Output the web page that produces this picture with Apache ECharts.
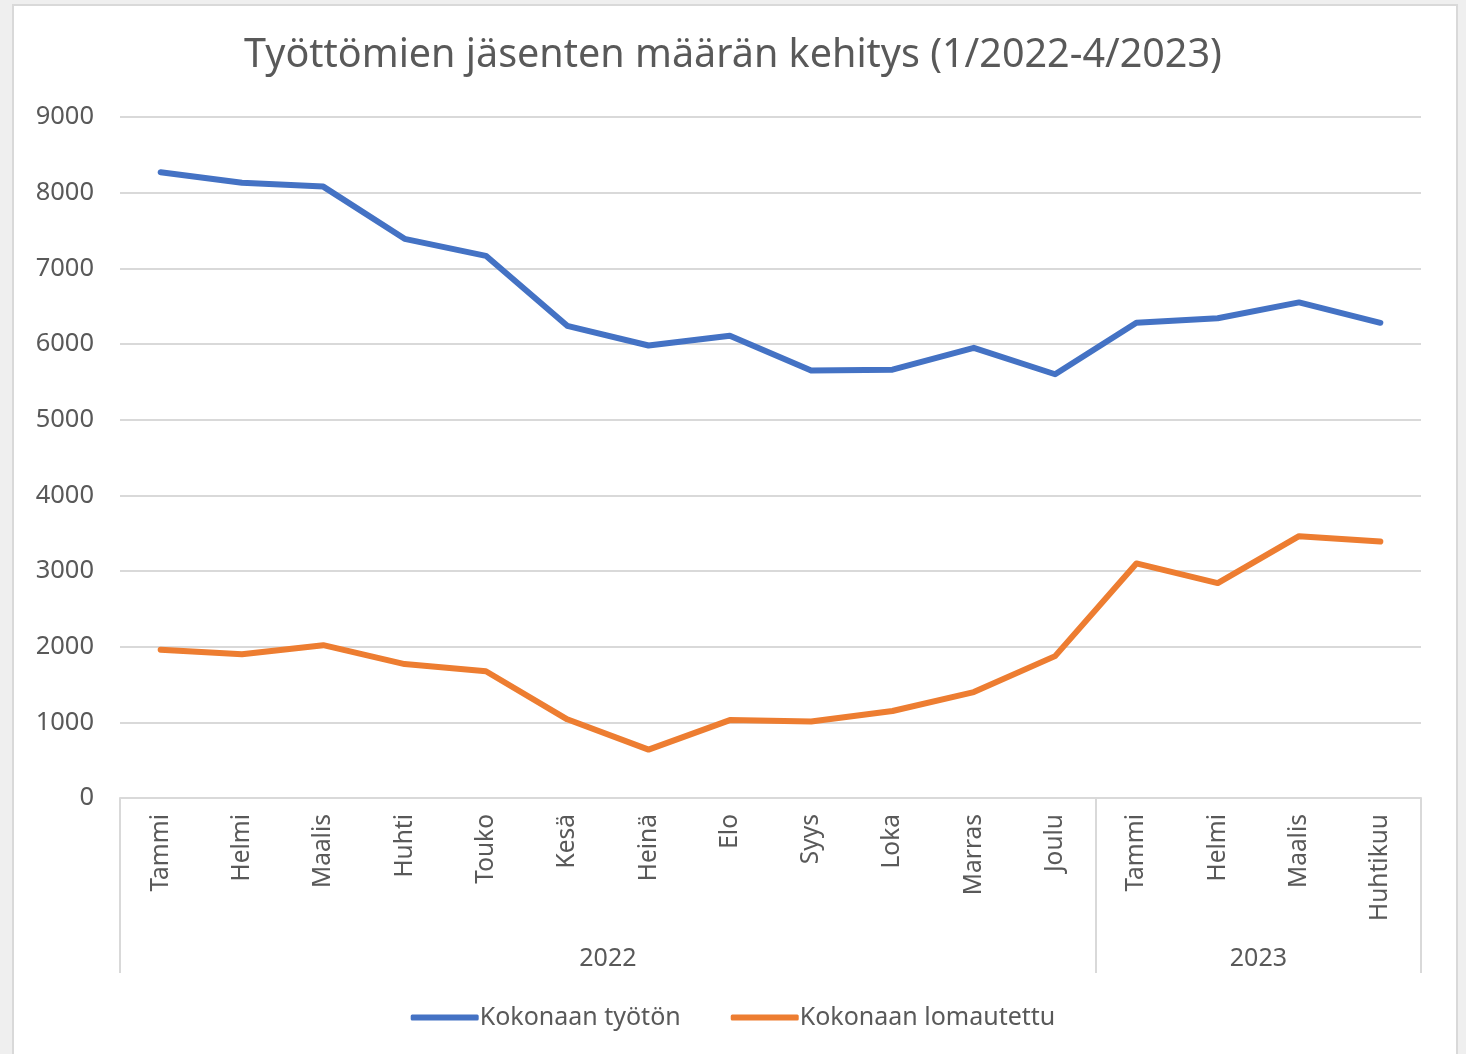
<!DOCTYPE html>
<html>
<head>
<meta charset="utf-8">
<script src="https://cdn.jsdelivr.net/npm/echarts@6/dist/echarts.min.js"></script>
<style>
  html, body { margin: 0; padding: 0; background: #efefef; width: 1466px; height: 1054px; overflow: hidden; }
  #frame { position: absolute; left: 12px; top: 4px; width: 1442px; height: 1060px; background: #fff; border: 2px solid #d9d9d9; }
  #chart { position: absolute; left: 0; top: 0; width: 1466px; height: 1054px; }
</style>
</head>
<body>
<div id="frame"></div>
<div id="chart"></div>
<script>
const title = 'Työttömien jäsenten määrän kehitys (1/2022-4/2023)';
const months = ['Tammi','Helmi','Maalis','Huhti','Touko','Kesä','Heinä','Elo','Syys','Loka','Marras','Joulu','Tammi','Helmi','Maalis','Huhtikuu'];
const years = ['2022', '2023'];
const yearBounds = [0, 12, 16];
const yearCenters = [6, 14];
const seriesNames = ['Kokonaan työtön', 'Kokonaan lomautettu'];
const tyoton = [8270, 8130, 8080, 7390, 7165, 6240, 5980, 6110, 5650, 5660, 5950, 5600, 6280, 6340, 6550, 6280];
const lomautettu = [1960, 1900, 2020, 1770, 1675, 1040, 640, 1030, 1010, 1150, 1400, 1875, 3100, 2840, 3460, 3390];

const FONT = 'Noto Sans';
const TXT = '#595959';
const GRID = '#d9d9d9';

const chart = echarts.init(document.getElementById('chart'), null, { renderer: 'canvas' });
chart.setOption({
  backgroundColor: 'transparent',
  animation: false,
  title: {
    text: title,
    left: 'center',
    top: 31,
    textStyle: { fontFamily: FONT, fontSize: 39.5, fontWeight: 'normal', color: TXT }
  },
  legend: {
    bottom: 19,
    left: 'center',
    itemWidth: 68,
    itemHeight: 6,
    itemGap: 50,
    icon: 'roundRect',
    textStyle: { fontFamily: FONT, fontSize: 25, color: TXT, padding: [0, 0, 0, -4] },
    data: seriesNames
  },
  grid: { left: 120, right: 45, top: 117, bottom: 256, containLabel: false },
  xAxis: [
    {
      type: 'category',
      data: months,
      position: 'bottom',
      boundaryGap: true,
      axisLine: { show: true, lineStyle: { color: GRID, width: 2 } },
      axisTick: { show: false },
      axisLabel: { rotate: 90, interval: 0, margin: 16, fontFamily: FONT, fontSize: 24.5, color: TXT }
    },
    {
      type: 'value',
      min: yearBounds[0],
      max: yearBounds[yearBounds.length - 1],
      position: 'bottom',
      splitLine: { show: false },
      axisLine: { show: false },
      axisTick: { show: true, customValues: yearBounds, length: 175, lineStyle: { color: GRID, width: 2 } },
      axisLabel: {
        show: true,
        customValues: yearCenters,
        margin: 148,
        fontFamily: FONT, fontSize: 25, color: TXT,
        formatter: v => years[yearCenters.indexOf(v)]
      }
    }
  ],
  yAxis: {
    type: 'value',
    min: 0, max: 9000, interval: 1000,
    axisLine: { show: false },
    axisTick: { show: false },
    splitLine: { lineStyle: { color: GRID, width: 2 } },
    axisLabel: { margin: 26, fontFamily: FONT, fontSize: 25.5, color: TXT, formatter: v => String(v) }
  },
  series: [
    {
      name: seriesNames[0], type: 'line', data: tyoton, xAxisIndex: 0,
      showSymbol: false, symbol: 'none',
      lineStyle: { color: '#4472C4', width: 6, cap: 'round', join: 'round' },
      itemStyle: { color: '#4472C4' }
    },
    {
      name: seriesNames[1], type: 'line', data: lomautettu, xAxisIndex: 0,
      showSymbol: false, symbol: 'none',
      lineStyle: { color: '#ED7D31', width: 6, cap: 'round', join: 'round' },
      itemStyle: { color: '#ED7D31' }
    }
  ]
});
</script>
</body>
</html>
